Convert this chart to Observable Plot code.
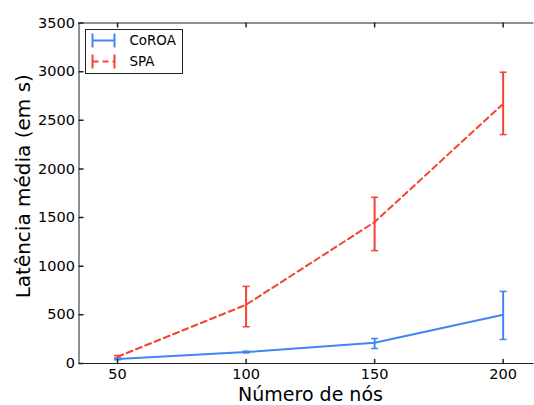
<!DOCTYPE html>
<html><head><meta charset="utf-8">
<script src="https://cdn.jsdelivr.net/npm/d3@7"></script>
<script src="https://cdn.jsdelivr.net/npm/@observablehq/plot@0.6"></script>
<style>
body{margin:0;background:#fff}
#chart{position:relative;width:534px;height:405px}
</style>
</head><body><div id="chart"></div>
<script>
const nodes = [50, 100, 150, 200];
const coroaMean = [45, 117, 213, 501];
const coroaLow = [38, 108, 154, 247];
const coroaHigh = [52, 126, 257, 741];
const spaMean = [69, 604, 1454, 2669];
const spaLow = [56, 378, 1160, 2353];
const spaHigh = [82, 792, 1708, 2994];
const seriesNames = ["CoROA", "SPA"];
const seriesColors = ["#4285f4", "#f44336"];
const xTicks = [50, 100, 150, 200];
const yTicks = [0, 500, 1000, 1500, 2000, 2500, 3000, 3500];
const xLabel = "Número de nós";
const yLabel = "Latência média (em s)";

const rows = [];
nodes.forEach((n, i) => {
  rows.push({series: seriesNames[0], x: n, mean: coroaMean[i], low: coroaLow[i], high: coroaHigh[i]});
  rows.push({series: seriesNames[1], x: n, mean: spaMean[i], low: spaLow[i], high: spaHigh[i]});
});
const colorOf = s => seriesColors[seriesNames.indexOf(s)];

const tickShape = {draw(ctx, l) { ctx.moveTo(0, 0); ctx.lineTo(0, -l); }};
const capSymbol = {draw(ctx) { ctx.moveTo(-3.5, 0); ctx.lineTo(3.5, 0); }};
const axisColor = "#222";

const plot = Plot.plot({
  width: 534,
  height: 405,
  marginLeft: 78.5,
  marginRight: 0.5,
  marginTop: 22.5,
  marginBottom: 42,
  style: {fontFamily: "DejaVu Sans", color: "#000", background: "#fff", overflow: "visible"},
  x: {domain: [35, 212], axis: null},
  y: {domain: [0, 3500], axis: null},
  marks: [
    Plot.axisX({ticks: xTicks, tickSize: 0, tickPadding: 5, fontSize: 14.5, label: null, tickFormat: d3.format("d")}),
    Plot.axisY({ticks: yTicks, tickSize: 0, tickPadding: 4, fontSize: 14.5, label: null, tickFormat: d3.format("d")}),
    Plot.line(rows.filter(d => d.series === seriesNames[1]), {x: "x", y: "mean", stroke: seriesColors[1], strokeWidth: 2, strokeDasharray: "6,4"}),
    Plot.line(rows.filter(d => d.series === seriesNames[0]), {x: "x", y: "mean", stroke: seriesColors[0], strokeWidth: 2}),
    Plot.ruleX(rows, {x: "x", y1: "low", y2: "high", stroke: d => colorOf(d.series), strokeWidth: 2}),
    Plot.dot(rows, {x: "x", y: "low", symbol: capSymbol, r: 3, stroke: d => colorOf(d.series), strokeWidth: 1.5, fill: "none"}),
    Plot.dot(rows, {x: "x", y: "high", symbol: capSymbol, r: 3, stroke: d => colorOf(d.series), strokeWidth: 1.5, fill: "none"}),
    Plot.ruleY([0], {stroke: axisColor, strokeWidth: 1}),
    Plot.ruleY([3500], {stroke: axisColor, strokeWidth: 1}),
    Plot.ruleX([35], {stroke: axisColor, strokeWidth: 1}),
    Plot.vector(xTicks, {x: d => d, frameAnchor: "bottom", length: 4, rotate: 0, anchor: "start", shape: tickShape, stroke: axisColor}),
    Plot.vector(xTicks, {x: d => d, frameAnchor: "top", length: 4, rotate: 180, anchor: "start", shape: tickShape, stroke: axisColor}),
    Plot.vector(yTicks, {y: d => d, frameAnchor: "left", length: 4, rotate: 90, anchor: "start", shape: tickShape, stroke: axisColor}),
    Plot.text([xLabel], {frameAnchor: "bottom", dy: 31, dx: 4, fontSize: 19, fill: "#000", textAnchor: "middle", lineAnchor: "middle"}),
    Plot.text([yLabel], {frameAnchor: "left", dx: -55, dy: -7, rotate: -90, fontSize: 20, fill: "#000", textAnchor: "middle", lineAnchor: "middle"})
  ]
});

// Legend (matplotlib-style box with errorbar handles)
const svg = d3.select(plot);
const lg = svg.append("g").attr("font-family", "DejaVu Sans").attr("font-size", 13.4).attr("text-anchor", "start");
lg.append("rect").attr("x", 85.5).attr("y", 29.5).attr("width", 97).attr("height", 44)
  .attr("fill", "#fff").attr("stroke", axisColor).attr("stroke-width", 1);
seriesNames.forEach((name, i) => {
  const cy = 40.5 + i * 21;
  const c = seriesColors[i];
  const g = lg.append("g").attr("stroke", c).attr("stroke-width", 2);
  g.append("line").attr("x1", 92.5).attr("x2", 114.5).attr("y1", cy).attr("y2", cy)
    .attr("stroke-dasharray", i === 1 ? "6,4" : null);
  g.append("line").attr("x1", 92.5).attr("x2", 92.5).attr("y1", cy - 7).attr("y2", cy + 7);
  g.append("line").attr("x1", 114.5).attr("x2", 114.5).attr("y1", cy - 7).attr("y2", cy + 7);
  lg.append("text").attr("x", 129.5).attr("y", cy).attr("dy", "0.36em").attr("fill", "#000")
    .style("text-anchor", "start").text(name);
});

document.getElementById("chart").appendChild(plot);
</script>
</body></html>
